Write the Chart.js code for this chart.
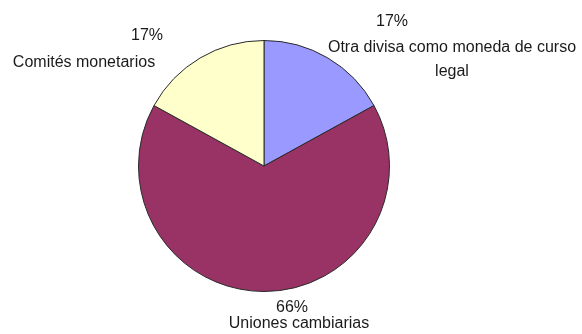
<!DOCTYPE html>
<html lang="es">
<head>
    <meta charset="UTF-8">
    <title>Regímenes cambiarios</title>
    <script src="https://cdn.jsdelivr.net/npm/chart.js"></script>
    <style>
        html, body { margin: 0; padding: 0; background: #fff; }
        #wrap { width: 582px; height: 334px; }
    </style>
</head>
<body>
    <div id="wrap"><canvas id="pie" width="582" height="334"></canvas></div>

    <script>
        // slices go clockwise from 12 o'clock
        const categories = ['Otra divisa como moneda de curso legal', 'Uniones cambiarias', 'Comités monetarios'];
        const labelLines = [['Otra divisa como moneda de curso', 'legal'], ['Uniones cambiarias'], ['Comités monetarios']];
        const shares = [17, 66, 17];
        const sliceColors = ['#9999ff', '#993366', '#ffffcc'];

        // per-line offsets (percentage first, then name lines) from the point just outside each slice
        const labelOffsets = [
            [[57, -24], [117, 1.5], [117, 25.5]],
            [[28, 2], [35, 18]],
            [[-46, -10.5], [-109, 16.5]]
        ];

        const sliceLabels = {
            id: 'sliceLabels',
            afterDatasetsDraw(chart) {
                const ctx = chart.ctx;
                const arcs = chart.getDatasetMeta(0).data;
                ctx.save();
                ctx.font = '16px "Liberation Sans", Arial, sans-serif';
                ctx.fillStyle = '#1a1a1a';
                ctx.textAlign = 'center';
                ctx.textBaseline = 'middle';
                arcs.forEach((arc, i) => {
                    const p = arc.getProps(['x', 'y', 'startAngle', 'endAngle', 'outerRadius'], true);
                    const mid = (p.startAngle + p.endAngle) / 2;
                    const ax = p.x + Math.cos(mid) * (p.outerRadius + 14);
                    const ay = p.y + Math.sin(mid) * (p.outerRadius + 14);
                    const lines = [shares[i] + '%'].concat(labelLines[i]);
                    lines.forEach((t, k) => {
                        const [dx, dy] = labelOffsets[i][k];
                        ctx.fillText(t, ax + dx, ay + dy);
                    });
                });
                ctx.restore();
            }
        };

        new Chart(document.getElementById('pie'), {
            type: 'pie',
            data: {
                labels: categories,
                datasets: [{
                    data: shares,
                    backgroundColor: sliceColors,
                    borderColor: '#2a2a2a',
                    borderWidth: 1
                }]
            },
            options: {
                responsive: false,
                animation: false,
                layout: { padding: { left: 138, right: 192, top: 40, bottom: 42 } },
                plugins: {
                    legend: { display: false },
                    tooltip: { enabled: false }
                }
            },
            plugins: [sliceLabels]
        });
    </script>
</body>
</html>
